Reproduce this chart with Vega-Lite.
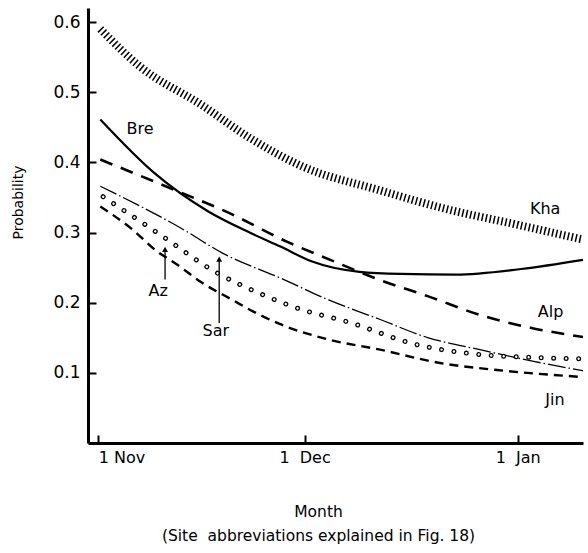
{
  "$schema": "https://vega.github.io/schema/vega-lite/v6.json",
  "width": 495,
  "height": 435,
  "autosize": {"type": "none"},
  "padding": {"left": 88, "top": 8, "right": 5, "bottom": 110},
  "background": "white",
  "config": {
    "view": {"stroke": null},
    "font": "DejaVu Sans",
    "axis": {
      "grid": false,
      "domainColor": "black",
      "domainWidth": 3,
      "tickColor": "black",
      "tickWidth": 2,
      "tickSize": -8,
      "labelFont": "DejaVu Sans",
      "labelFontSize": 16,
      "labelFontWeight": "normal",
      "labelColor": "black",
      "titleFont": "DejaVu Sans",
      "titleFontSize": 15.5,
      "titleFontWeight": "normal",
      "titleColor": "black"
    }
  },
  "datasets": {
    "lines": [
      {"site": "Kha", "date": "2001-11-01T07:00", "p": 0.59},
      {"site": "Kha", "date": "2001-11-07T00:00", "p": 0.537},
      {"site": "Kha", "date": "2001-11-16T00:00", "p": 0.482},
      {"site": "Kha", "date": "2001-11-23T00:00", "p": 0.435},
      {"site": "Kha", "date": "2001-11-30T12:00", "p": 0.395},
      {"site": "Kha", "date": "2001-12-12T00:00", "p": 0.36},
      {"site": "Kha", "date": "2001-12-21T00:00", "p": 0.335},
      {"site": "Kha", "date": "2002-01-01T00:00", "p": 0.311},
      {"site": "Kha", "date": "2002-01-10T12:00", "p": 0.29},
      {"site": "Bre", "date": "2001-11-01T07:00", "p": 0.461},
      {"site": "Bre", "date": "2001-11-09T00:00", "p": 0.386},
      {"site": "Bre", "date": "2001-11-17T00:00", "p": 0.33},
      {"site": "Bre", "date": "2001-11-23T00:00", "p": 0.3},
      {"site": "Bre", "date": "2001-11-27T12:00", "p": 0.28},
      {"site": "Bre", "date": "2001-12-02T00:00", "p": 0.259},
      {"site": "Bre", "date": "2001-12-09T00:00", "p": 0.244},
      {"site": "Bre", "date": "2001-12-15T00:00", "p": 0.241},
      {"site": "Bre", "date": "2001-12-23T00:00", "p": 0.24},
      {"site": "Bre", "date": "2002-01-01T12:00", "p": 0.248},
      {"site": "Bre", "date": "2002-01-10T12:00", "p": 0.261},
      {"site": "Alp", "date": "2001-11-01T07:00", "p": 0.404},
      {"site": "Alp", "date": "2001-11-13T00:00", "p": 0.357},
      {"site": "Alp", "date": "2001-11-20T00:00", "p": 0.328},
      {"site": "Alp", "date": "2001-11-28T10:00", "p": 0.287},
      {"site": "Alp", "date": "2001-12-05T00:00", "p": 0.26},
      {"site": "Alp", "date": "2001-12-11T12:00", "p": 0.234},
      {"site": "Alp", "date": "2001-12-19T00:00", "p": 0.209},
      {"site": "Alp", "date": "2001-12-27T00:00", "p": 0.181},
      {"site": "Alp", "date": "2002-01-03T00:00", "p": 0.164},
      {"site": "Alp", "date": "2002-01-10T12:00", "p": 0.151},
      {"site": "Sar", "date": "2001-11-01T07:00", "p": 0.366},
      {"site": "Sar", "date": "2001-11-13T10:00", "p": 0.304},
      {"site": "Sar", "date": "2001-11-19T00:00", "p": 0.271},
      {"site": "Sar", "date": "2001-11-27T12:00", "p": 0.235},
      {"site": "Sar", "date": "2001-12-04T12:00", "p": 0.204},
      {"site": "Sar", "date": "2001-12-12T00:00", "p": 0.176},
      {"site": "Sar", "date": "2001-12-19T00:00", "p": 0.15},
      {"site": "Sar", "date": "2001-12-26T12:00", "p": 0.133},
      {"site": "Sar", "date": "2002-01-03T12:00", "p": 0.116},
      {"site": "Sar", "date": "2002-01-10T12:00", "p": 0.103},
      {"site": "Az", "date": "2001-11-01T17:00", "p": 0.351},
      {"site": "Az", "date": "2001-11-10T00:00", "p": 0.297},
      {"site": "Az", "date": "2001-11-18T00:00", "p": 0.244},
      {"site": "Az", "date": "2001-11-25T00:00", "p": 0.211},
      {"site": "Az", "date": "2001-11-30T00:00", "p": 0.192},
      {"site": "Az", "date": "2001-12-07T12:00", "p": 0.172},
      {"site": "Az", "date": "2001-12-17T00:00", "p": 0.141},
      {"site": "Az", "date": "2001-12-26T12:00", "p": 0.126},
      {"site": "Az", "date": "2002-01-03T00:00", "p": 0.122},
      {"site": "Az", "date": "2002-01-10T12:00", "p": 0.12},
      {"site": "Jin", "date": "2001-11-01T07:00", "p": 0.337},
      {"site": "Jin", "date": "2001-11-06T00:00", "p": 0.304},
      {"site": "Jin", "date": "2001-11-09T07:00", "p": 0.275},
      {"site": "Jin", "date": "2001-11-12T12:00", "p": 0.254},
      {"site": "Jin", "date": "2001-11-16T00:00", "p": 0.229},
      {"site": "Jin", "date": "2001-11-20T12:00", "p": 0.204},
      {"site": "Jin", "date": "2001-11-23T10:00", "p": 0.188},
      {"site": "Jin", "date": "2001-11-27T07:00", "p": 0.17},
      {"site": "Jin", "date": "2001-12-04T17:00", "p": 0.147},
      {"site": "Jin", "date": "2001-12-12T00:00", "p": 0.133},
      {"site": "Jin", "date": "2001-12-20T17:00", "p": 0.114},
      {"site": "Jin", "date": "2001-12-29T00:00", "p": 0.104},
      {"site": "Jin", "date": "2002-01-10T12:00", "p": 0.094}
    ],
    "labels": [
      {"label": "Bre", "date": "2001-11-07T02:00", "p": 0.447},
      {"label": "Kha", "date": "2002-01-05T00:00", "p": 0.334},
      {"label": "Alp", "date": "2002-01-05T19:00", "p": 0.187},
      {"label": "Jin", "date": "2002-01-06T10:00", "p": 0.061},
      {"label": "Az", "date": "2001-11-09T17:00", "p": 0.217},
      {"label": "Sar", "date": "2001-11-18T02:00", "p": 0.159}
    ],
    "arrows": [
      {"site": "Az", "date": "2001-11-10T17:00", "p0": 0.233, "p1": 0.276},
      {"site": "Sar", "date": "2001-11-18T14:00", "p0": 0.171, "p1": 0.262}
    ]
  },
  "encoding": {
    "x": {
      "field": "date",
      "type": "temporal",
      "scale": {"domain": [{"year": 2001, "month": "oct", "date": 30, "hours": 12}, {"year": 2002, "month": "jan", "date": 10, "hours": 12}]},
      "axis": {
        "values": [{"year": 2001, "month": "nov", "date": 1}, {"year": 2001, "month": "dec", "date": 1}, {"year": 2002, "month": "jan", "date": 1}],
        "labelExpr": "month(datum.value) == 10 ? '1 Nov' : '1\u00a0\u00a0' + timeFormat(datum.value, '%b')",
        "labelAlign": {"condition": {"test": "month(datum.value) == 10", "value": "left"}, "value": "center"},
        "labelFontSize": 16,
        "labelPadding": 14,
        "title": ["Month", "(Site\u00a0\u00a0abbreviations explained in Fig. 18)"],
        "titleLineHeight": 24,
        "titleX": 230,
        "titleY": 61,
        "titleAlign": "center",
        "titleBaseline": "top"
      }
    },
    "y": {
      "field": "p",
      "type": "quantitative",
      "scale": {"domain": [0, 0.62], "nice": false},
      "axis": {
        "values": [0.1, 0.2, 0.3, 0.4, 0.5, 0.6],
        "format": ".1f",
        "labelFontSize": 17,
        "labelPadding": 16,
        "title": "Probability",
        "titleFontSize": 14,
        "titleX": -70,
        "titleY": 194,
        "titleAngle": -90,
        "titleAlign": "center",
        "titleBaseline": "middle"
      }
    }
  },
  "layer": [
    {
      "data": {"name": "lines"},
      "transform": [{"filter": "datum.site == 'Kha'"}],
      "mark": {"type": "line", "interpolate": "monotone", "color": "black", "strokeWidth": 8, "strokeDash": [1.5, 2.5]}
    },
    {
      "data": {"name": "lines"},
      "transform": [{"filter": "datum.site == 'Bre'"}],
      "mark": {"type": "line", "interpolate": "monotone", "color": "black", "strokeWidth": 2.2}
    },
    {
      "data": {"name": "lines"},
      "transform": [{"filter": "datum.site == 'Alp'"}],
      "mark": {"type": "line", "interpolate": "monotone", "color": "black", "strokeWidth": 2.6, "strokeDash": [13, 9]}
    },
    {
      "data": {"name": "lines"},
      "transform": [{"filter": "datum.site == 'Sar'"}],
      "mark": {"type": "line", "interpolate": "monotone", "color": "black", "strokeWidth": 1.3, "strokeDash": [18, 3, 1.5, 3]}
    },
    {
      "data": {"name": "lines"},
      "transform": [{"filter": "datum.site == 'Jin'"}],
      "mark": {"type": "line", "interpolate": "monotone", "color": "black", "strokeWidth": 2.4, "strokeDash": [9, 6]}
    },
    {
      "data": {"name": "lines"},
      "transform": [{"filter": "datum.site == 'Az'"}],
      "mark": {"type": "line", "interpolate": "monotone", "color": "black", "strokeWidth": 5, "strokeCap": "round", "strokeDash": [0.001, 12.5]}
    },
    {
      "data": {"name": "lines"},
      "transform": [{"filter": "datum.site == 'Az'"}],
      "mark": {"type": "line", "interpolate": "monotone", "color": "white", "strokeWidth": 2.4, "strokeCap": "round", "strokeDash": [0.001, 12.5]}
    },
    {
      "data": {"name": "arrows"},
      "mark": {"type": "rule", "color": "black", "strokeWidth": 1.3},
      "encoding": {
        "y": {"field": "p0", "type": "quantitative"},
        "y2": {"field": "p1"}
      }
    },
    {
      "data": {"name": "arrows"},
      "mark": {"type": "point", "shape": "triangle-up", "filled": true, "color": "black", "size": 35, "opacity": 1},
      "encoding": {
        "y": {"field": "p1", "type": "quantitative"}
      }
    },
    {
      "data": {"name": "labels"},
      "mark": {"type": "text", "font": "DejaVu Sans", "fontSize": 16, "color": "black", "align": "center", "baseline": "middle"},
      "encoding": {
        "text": {"field": "label"}
      }
    }
  ]
}
